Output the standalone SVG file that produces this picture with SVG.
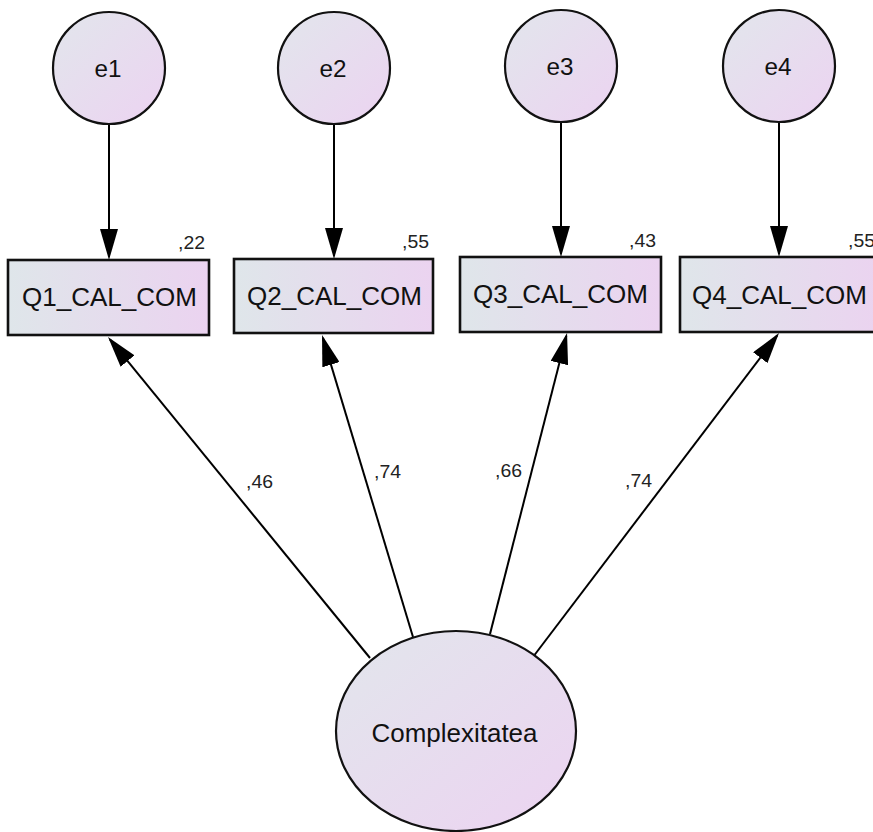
<svg xmlns="http://www.w3.org/2000/svg" width="873" height="832" viewBox="0 0 873 832">
  <defs>
    <linearGradient id="fillRound" x1="0" y1="0" x2="1" y2="1">
      <stop offset="0" stop-color="#e2e6ec"/>
      <stop offset="1" stop-color="#ecd3f1"/>
    </linearGradient>
    <linearGradient id="fillBox" x1="0" y1="0" x2="1" y2="0">
      <stop offset="0" stop-color="#dfe6ea"/>
      <stop offset="1" stop-color="#ebd3f0"/>
    </linearGradient>
    <marker id="head" viewBox="0 0 31 18" markerWidth="31" markerHeight="18" refX="28" refY="9" orient="auto" markerUnits="userSpaceOnUse">
      <path d="M0,0 L31,9 L0,18 Z" fill="#000"/>
    </marker>
  </defs>
  <style>
    .latent { fill: url(#fillRound); stroke: #111; stroke-width: 2.2; }
    .observed { fill: url(#fillBox); stroke: #111; stroke-width: 2.6; }
    .edge { stroke: #000; stroke-width: 2; fill: none; marker-end: url(#head); }
    .name { font-family: "Liberation Sans", Arial, sans-serif; font-size: 23px; fill: #111; text-anchor: middle; }
    .factor-name { font-family: "Liberation Sans", Arial, sans-serif; font-size: 26px; fill: #111; text-anchor: middle; }
    .box-name { font-family: "Liberation Sans", Arial, sans-serif; font-size: 25px; fill: #111; text-anchor: middle; }
    .est { font-family: "Liberation Sans", Arial, sans-serif; font-size: 18px; fill: #222; }
  </style>
  <rect width="873" height="832" fill="#fff"/>

  <!-- paths -->
  <g id="connectors">
    <line class="edge" x1="109" y1="125" x2="109" y2="257"/>
    <line class="edge" x1="334" y1="125" x2="334" y2="256"/>
    <line class="edge" x1="561" y1="122" x2="561" y2="254"/>
    <line class="edge" x1="779" y1="122" x2="779" y2="254"/>
    <line class="edge" x1="370" y1="658" x2="109.9" y2="339.3"/>
    <line class="edge" x1="413" y1="637" x2="322.9" y2="337.9"/>
    <line class="edge" x1="490" y1="634" x2="566.3" y2="335.9"/>
    <line class="edge" x1="534.5" y1="655" x2="777.2" y2="335.4"/>
    <text class="est" x="246" y="488" textLength="27" lengthAdjust="spacingAndGlyphs">,46</text>
    <text class="est" x="374" y="478" textLength="27" lengthAdjust="spacingAndGlyphs">,74</text>
    <text class="est" x="495" y="477" textLength="27" lengthAdjust="spacingAndGlyphs">,66</text>
    <text class="est" x="625" y="487" textLength="27" lengthAdjust="spacingAndGlyphs">,74</text>
  </g>

  <!-- error terms -->
  <g id="e1">
    <circle class="latent" cx="109" cy="68" r="56"/>
    <text class="name" x="108" y="77" textLength="27" lengthAdjust="spacingAndGlyphs">e1</text>
  </g>
  <g id="e2">
    <circle class="latent" cx="334" cy="68" r="56"/>
    <text class="name" x="333" y="77" textLength="27" lengthAdjust="spacingAndGlyphs">e2</text>
  </g>
  <g id="e3">
    <circle class="latent" cx="561" cy="66" r="56"/>
    <text class="name" x="560" y="75" textLength="27" lengthAdjust="spacingAndGlyphs">e3</text>
  </g>
  <g id="e4">
    <circle class="latent" cx="779" cy="66" r="56"/>
    <text class="name" x="778" y="75" textLength="27" lengthAdjust="spacingAndGlyphs">e4</text>
  </g>

  <!-- observed items -->
  <g id="Q1_CAL_COM">
    <rect class="observed" x="8" y="260" width="201" height="75"/>
    <text class="box-name" x="109.5" y="306" textLength="175" lengthAdjust="spacingAndGlyphs">Q1_CAL_COM</text>
    <text class="est" x="178" y="249" textLength="27" lengthAdjust="spacingAndGlyphs">,22</text>
  </g>
  <g id="Q2_CAL_COM">
    <rect class="observed" x="234" y="259" width="199" height="74"/>
    <text class="box-name" x="334.5" y="305" textLength="175" lengthAdjust="spacingAndGlyphs">Q2_CAL_COM</text>
    <text class="est" x="402" y="248" textLength="27" lengthAdjust="spacingAndGlyphs">,55</text>
  </g>
  <g id="Q3_CAL_COM">
    <rect class="observed" x="460" y="257" width="201" height="75"/>
    <text class="box-name" x="560.5" y="303" textLength="175" lengthAdjust="spacingAndGlyphs">Q3_CAL_COM</text>
    <text class="est" x="629" y="247" textLength="27" lengthAdjust="spacingAndGlyphs">,43</text>
  </g>
  <g id="Q4_CAL_COM">
    <rect class="observed" x="680" y="257" width="201" height="75"/>
    <text class="box-name" x="779.5" y="304" textLength="175" lengthAdjust="spacingAndGlyphs">Q4_CAL_COM</text>
    <text class="est" x="848" y="247" textLength="27" lengthAdjust="spacingAndGlyphs">,55</text>
  </g>

  <!-- latent factor -->
  <g id="Complexitatea">
    <ellipse class="latent" cx="456" cy="731" rx="120" ry="100"/>
    <text class="factor-name" x="454.5" y="742" textLength="166" lengthAdjust="spacingAndGlyphs">Complexitatea</text>
  </g>
</svg>
